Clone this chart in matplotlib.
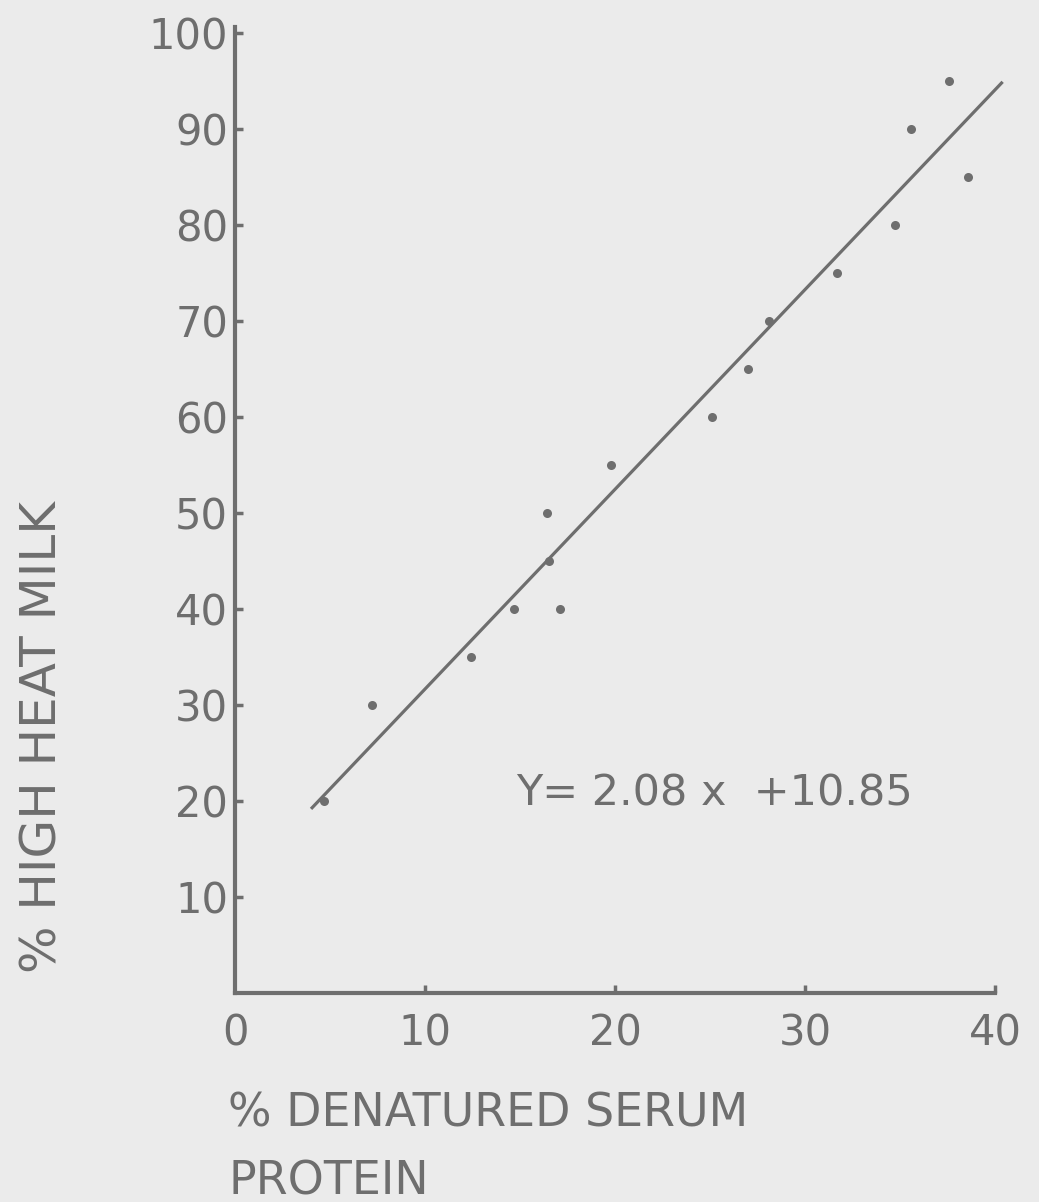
import matplotlib
matplotlib.use('Agg')
import matplotlib.pyplot as plt
import numpy as np

# denatured serum protein (%) vs high heat milk (%)
serum_protein = [4.7, 7.2, 12.4, 14.7, 16.4, 16.5, 17.1, 19.8, 25.1, 27.0,
                 28.1, 31.7, 34.75, 35.6, 37.6, 38.6]
high_heat_milk = [20, 30, 35, 40, 50, 45, 40, 55, 60, 65,
                  70, 75, 80, 90, 95, 85]

# fitted regression line
slope = 2.08
intercept = 10.85
fit_range = [4.0, 40.4]

x_ticks = [10, 20, 30, 40]
y_ticks = [10, 20, 30, 40, 50, 60, 70, 80, 90, 100]

ink = '#6e6e6e'
paper = '#ebebeb'

plt.rcParams['font.family'] = ['DejaVu Sans']

fig = plt.figure(figsize=(10.39, 12.02), dpi=100, facecolor=paper)
ax = fig.add_axes([0.2262, 0.1739, 0.7315, 0.8037])
ax.set_facecolor(paper)

fx = np.array(fit_range)
ax.plot(fx, slope * fx + intercept, color=ink, lw=2.3,
        solid_capstyle='butt', clip_on=False)
ax.plot(serum_protein, high_heat_milk, 'o', color=ink, ms=6.5, mec='none')

ax.text(14.8, 20.8, 'Y= 2.08 x  +10.85', color=ink, fontsize=31,
        va='center', ha='left')

ax.set_xlim(0, 40)
ax.set_ylim(0, 100.6)
ax.set_xticks(x_ticks)
ax.set_yticks(y_ticks)
ax.tick_params(direction='in', length=6, width=2.5, color=ink,
               labelcolor=ink, labelsize=30)
ax.tick_params(axis='x', pad=14)
ax.tick_params(axis='y', pad=5)
# the origin carries a "0" under the x axis only
ax.text(0, -2.0, '0', color=ink, fontsize=30, ha='center', va='top')

for side in ['top', 'right']:
    ax.spines[side].set_visible(False)
for side in ['left', 'bottom']:
    ax.spines[side].set_color(ink)
    ax.spines[side].set_linewidth(3)

ax.set_ylabel('% HIGH HEAT MILK', color=ink, fontsize=36, va='center')
ax.yaxis.set_label_coords(-0.253, 0.265)
ax.set_xlabel('% DENATURED SERUM\nPROTEIN', color=ink, fontsize=33,
              ha='left', va='top', linespacing=1.65)
ax.xaxis.set_label_coords(-0.009, -0.102)

plt.savefig('out.png', facecolor=paper)
